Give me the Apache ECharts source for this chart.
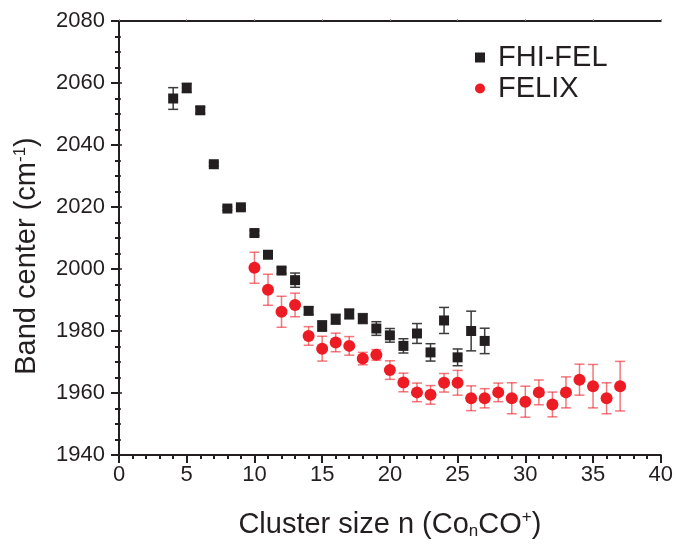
<!DOCTYPE html>
<html>
<head>
<meta charset="utf-8">
<script src="https://cdn.jsdelivr.net/npm/echarts@6/dist/echarts.min.js"></script>
<style>html,body{margin:0;padding:0;background:#fff;}#c{width:676px;height:545px;}</style>
</head>
<body>
<div id="c"></div>
<script>
// FHI-FEL (black squares)
const nBlack = [4, 5, 6, 7, 8, 9, 10, 11, 12, 13, 14, 15, 16, 17, 18, 19, 20, 21, 22, 23, 24, 25, 26, 27];
const bandBlack = [2055.0, 2058.4, 2051.2, 2033.8, 2019.5, 2019.9, 2011.6, 2004.6, 1999.5, 1996.4, 1986.5, 1981.6, 1983.8, 1985.5, 1984.0, 1980.8, 1978.6, 1975.2, 1979.2, 1973.1, 1983.4, 1971.5, 1980.0, 1976.8];
const errBlack = [3.5, 1.5, 1.0, 0.5, 0.5, 0.5, 0.8, 1.0, 1.0, 2.3, 1.2, 1.7, 1.6, 1.6, 1.6, 2.2, 2.2, 2.3, 3.2, 2.8, 4.2, 2.7, 6.4, 4.1];
// FELIX (red circles)
const nRed = [10, 11, 12, 13, 14, 15, 16, 17, 18, 19, 20, 21, 22, 23, 24, 25, 26, 27, 28, 29, 30, 31, 32, 33, 34, 35, 36, 37];
const bandRed = [2000.4, 1993.3, 1986.2, 1988.4, 1978.4, 1974.3, 1976.3, 1975.2, 1971.1, 1972.3, 1967.4, 1963.4, 1960.2, 1959.4, 1963.3, 1963.3, 1958.3, 1958.3, 1960.2, 1958.3, 1957.2, 1960.2, 1956.3, 1960.2, 1964.3, 1962.2, 1958.3, 1962.2];
const errRed = [5.0, 5.0, 5.0, 3.8, 3.0, 4.0, 3.0, 3.0, 2.0, 1.7, 3.0, 3.0, 3.0, 3.0, 3.0, 4.0, 4.0, 3.1, 3.0, 5.0, 5.0, 4.0, 4.0, 5.0, 5.0, 7.0, 5.0, 8.0];
// Axis ranges / ticks
const xMin = 0, xMax = 40, xStep = 5;
const yMin = 1940, yMax = 2080, yStep = 20;

const FONT = "'Liberation Sans', Arial, Helvetica, sans-serif";
const INK = '#231f20';

function pts(xs, ys) { return xs.map((x, i) => [x, ys[i]]); }
function errs(xs, ys, es) { return xs.map((x, i) => [x, ys[i] - es[i], ys[i] + es[i]]); }

function errRenderer(color) {
  return function (params, api) {
    const x = api.value(0);
    const lo = api.coord([x, api.value(1)]);
    const hi = api.coord([x, api.value(2)]);
    const w = 5;
    const st = { stroke: color, lineWidth: 1.5, fill: null };
    return {
      type: 'group',
      children: [
        { type: 'line', shape: { x1: lo[0], y1: lo[1], x2: hi[0], y2: hi[1] }, style: st },
        { type: 'line', shape: { x1: lo[0] - w, y1: lo[1], x2: lo[0] + w, y2: lo[1] }, style: st },
        { type: 'line', shape: { x1: hi[0] - w, y1: hi[1], x2: hi[0] + w, y2: hi[1] }, style: st }
      ]
    };
  };
}

const chart = echarts.init(document.getElementById('c'), null, { renderer: 'canvas' });
const axisLine = { show: true, lineStyle: { color: INK, width: 2 } };
chart.setOption({
  backgroundColor: '#fff',
  animation: false,
  textStyle: { fontFamily: FONT },
  grid: { left: 119, right: 15, top: 21, bottom: 88, containLabel: false },
  legend: {
    orient: 'vertical', left: 475, top: 43, padding: 0, itemGap: 2,
    itemWidth: 10, itemHeight: 10,
    textStyle: { fontSize: 29, color: INK, fontFamily: FONT, padding: [0, 0, 0, 8] },
    data: [{ name: 'FHI-FEL', icon: 'rect' }, { name: 'FELIX', icon: 'circle' }]
  },
  xAxis: [{
    type: 'value', min: xMin, max: xMax, interval: xStep, position: 'bottom',
    axisLine: axisLine,
    axisTick: { show: true, inside: false, length: 8, lineStyle: { color: INK, width: 2 } },
    minorTick: { show: true, splitNumber: 5, length: 4, lineStyle: { color: INK, width: 2 } },
    axisLabel: { fontSize: 22, color: INK, margin: 9, fontFamily: FONT, formatter: v => String(v) },
    splitLine: { show: false },
    name: 'Cluster size n (Co{sub|n}CO{sup|+})',
    nameLocation: 'middle', nameGap: 54,
    nameTextStyle: {
      fontSize: 29, color: INK, fontFamily: FONT,
      rich: {
        sub: { fontSize: 17, color: INK, fontFamily: FONT, verticalAlign: 'bottom', padding: [14, 0, 0, 0] },
        sup: { fontSize: 17, color: INK, fontFamily: FONT, verticalAlign: 'top', padding: [0, 0, 10, 0] }
      }
    }
  }, {
    type: 'value', min: xMin, max: xMax, interval: xStep, position: 'top',
    axisLine: axisLine,
    axisTick: { show: true, inside: false, length: 2, lineStyle: { color: '#999', width: 1 } },
    axisLabel: { show: false }, splitLine: { show: false }
  }],
  yAxis: [{
    type: 'value', min: yMin, max: yMax, interval: yStep, position: 'left',
    axisLine: axisLine,
    axisTick: { show: true, inside: false, length: 8, lineStyle: { color: INK, width: 2 } },
    minorTick: { show: true, splitNumber: 4, length: 4, lineStyle: { color: INK, width: 2 } },
    axisLabel: { fontSize: 22, color: INK, margin: 14, fontFamily: FONT, formatter: v => String(v) },
    splitLine: { show: false },
    name: 'Band center (cm{sup|-1})',
    nameLocation: 'middle', nameGap: 78,
    nameTextStyle: {
      fontSize: 29, color: INK, fontFamily: FONT, padding: [0, 36, 0, 0],
      rich: {
        sup: { fontSize: 17, color: INK, fontFamily: FONT, verticalAlign: 'top', padding: [0, 0, 10, 0] }
      }
    }
  }, {
    type: 'value', min: yMin, max: yMax, interval: yStep, position: 'right',
    axisLine: axisLine,
    axisTick: { show: true, inside: false, length: 3, lineStyle: { color: INK, width: 1.5 } },
    minorTick: { show: true, splitNumber: 4, length: 2, lineStyle: { color: INK, width: 1.5 } },
    axisLabel: { show: false }, splitLine: { show: false }
  }],
  series: [
    {
      name: 'errBlack', type: 'custom', xAxisIndex: 0, yAxisIndex: 0, z: 2,
      renderItem: errRenderer('#3c3c3c'), data: errs(nBlack, bandBlack, errBlack), silent: true
    },
    {
      name: 'FHI-FEL', type: 'scatter', xAxisIndex: 0, yAxisIndex: 0, z: 3,
      symbol: 'rect', symbolSize: 10, itemStyle: { color: INK, opacity: 1 },
      data: pts(nBlack, bandBlack)
    },
    {
      name: 'errRed', type: 'custom', xAxisIndex: 0, yAxisIndex: 0, z: 4,
      renderItem: errRenderer('rgba(237,28,36,0.6)'), data: errs(nRed, bandRed, errRed), silent: true
    },
    {
      name: 'FELIX', type: 'scatter', xAxisIndex: 0, yAxisIndex: 0, z: 5,
      symbol: 'circle', symbolSize: 12, itemStyle: { color: '#ed1c24', opacity: 1 },
      data: pts(nRed, bandRed)
    }
  ]
});
</script>
</body>
</html>
